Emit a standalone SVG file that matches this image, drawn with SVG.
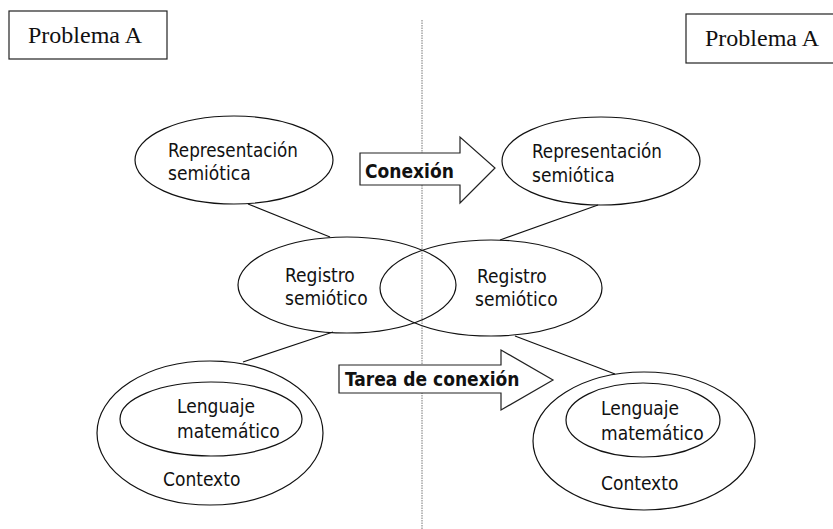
<svg xmlns="http://www.w3.org/2000/svg" width="833" height="529" viewBox="0 0 833 529">
<style>
.e{fill:none;stroke:#111;stroke-width:1.2}
.b{fill:#fff;stroke:#222;stroke-width:1.2}
.t{font-family:"DejaVu Sans Condensed","DejaVu Sans","Liberation Sans",sans-serif;font-stretch:condensed;font-size:19px;fill:#111}
.tb{font-family:"DejaVu Sans Condensed","DejaVu Sans","Liberation Sans",sans-serif;font-stretch:condensed;font-weight:bold;font-size:19px;fill:#111}
.s{font-family:"Liberation Serif","Times New Roman",serif;font-size:24px;fill:#111}
.c{stroke:#111;stroke-width:1.2;fill:none}
</style>
<rect width="833" height="529" fill="#fff"/>
<line x1="422" y1="20" x2="422" y2="529" stroke="#777" stroke-width="1" stroke-dasharray="1.5,1"/>
<g id="problemaL"><rect class="b" x="9" y="11" width="158" height="48"/><text class="s" x="28" y="43">Problema A</text></g>
<g id="problemaR"><rect class="b" x="686" y="14" width="160" height="49"/><text class="s" x="705" y="46">Problema A</text></g>
<g id="connectors">
<line class="c" x1="248" y1="204" x2="330" y2="237"/>
<line class="c" x1="500" y1="240" x2="598" y2="205"/>
<line class="c" x1="333" y1="332" x2="243" y2="362"/>
<line class="c" x1="515" y1="336" x2="615" y2="374"/>
</g>
<g id="repL"><ellipse class="e" cx="234" cy="160" rx="99" ry="44"/><text class="t" x="168" y="157" textLength="130" lengthAdjust="spacingAndGlyphs">Representación</text><text class="t" x="168" y="180">semiótica</text></g>
<g id="repR"><ellipse class="e" cx="601" cy="161" rx="99" ry="44"/><text class="t" x="532" y="158" textLength="130" lengthAdjust="spacingAndGlyphs">Representación</text><text class="t" x="532" y="182">semiótica</text></g>
<g id="regL"><ellipse class="e" cx="347" cy="285" rx="109" ry="48"/><text class="t" x="285" y="282">Registro</text><text class="t" x="285" y="305">semiótico</text></g>
<g id="regR"><ellipse class="e" cx="491" cy="288" rx="111" ry="48"/><text class="t" x="477" y="283">Registro</text><text class="t" x="475" y="306">semiótico</text></g>
<g id="ctxL"><ellipse class="e" cx="210" cy="433" rx="113" ry="72"/><ellipse class="e" cx="211" cy="419" rx="91" ry="37"/><text class="t" x="177" y="413">Lenguaje</text><text class="t" x="177" y="438">matemático</text><text class="t" x="163" y="486">Contexto</text></g>
<g id="ctxR"><ellipse class="e" cx="644" cy="441" rx="111" ry="69"/><ellipse class="e" cx="643" cy="420" rx="77" ry="37"/><text class="t" x="601" y="415">Lenguaje</text><text class="t" x="601" y="440">matemático</text><text class="t" x="601" y="490">Contexto</text></g>
<g id="conexion"><polygon class="b" points="360,153 460,153 460,137 495,168 460,203 460,185 360,185"/><text class="tb" x="365" y="178">Conexión</text></g>
<g id="tarea"><polygon class="b" points="339,365 501,365 501,350 553,380 501,410 501,393 339,393"/><text class="tb" x="345" y="386">Tarea de conexión</text></g>
</svg>
